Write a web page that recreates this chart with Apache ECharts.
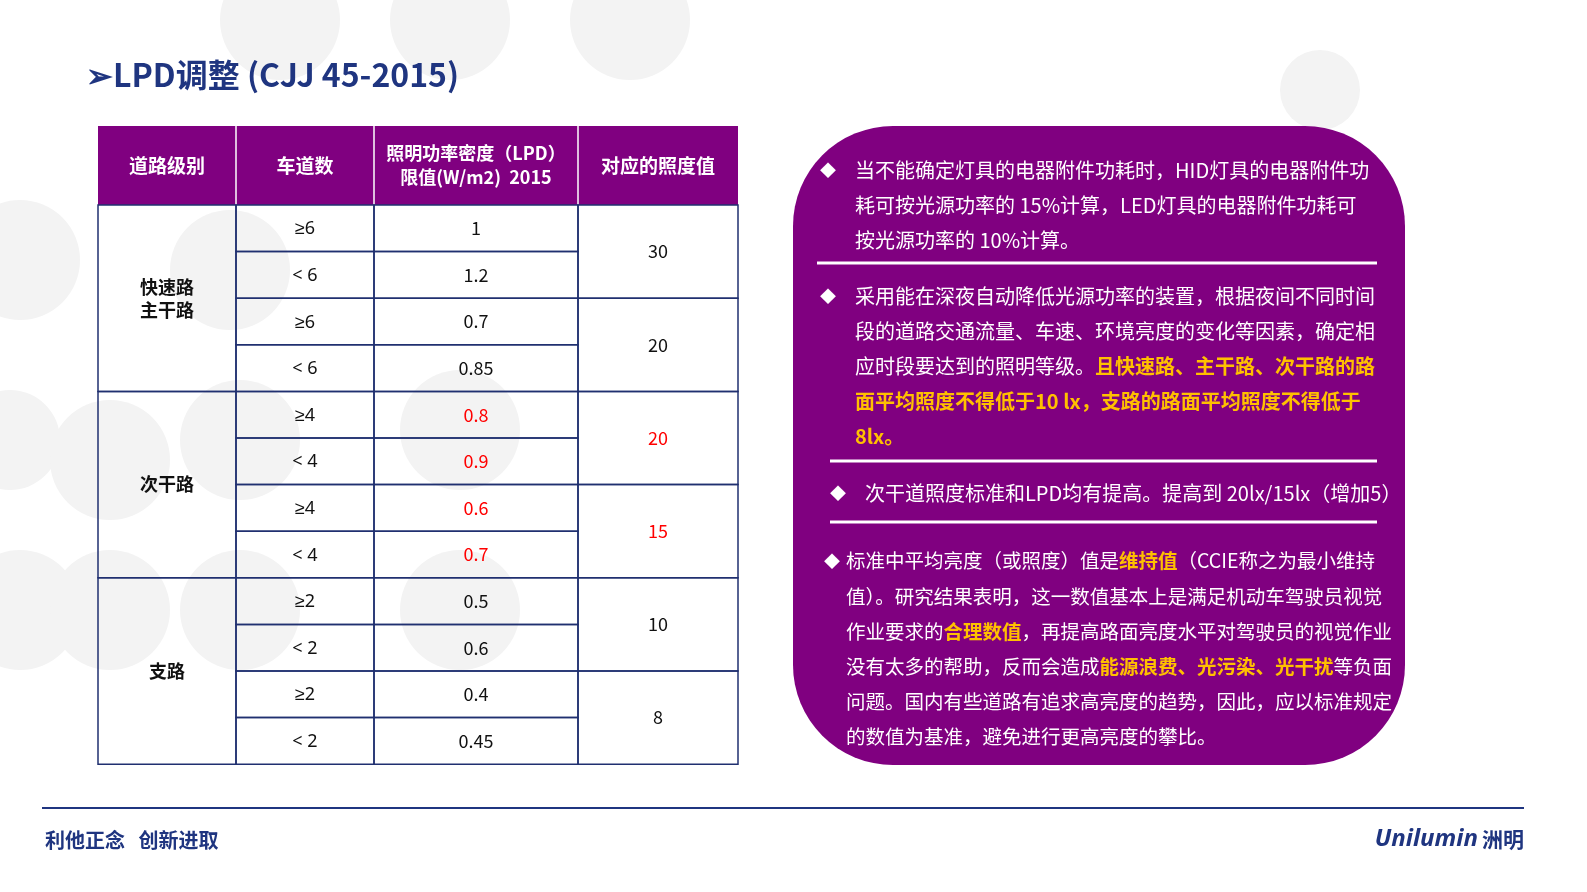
<!DOCTYPE html>
<html><head><meta charset="utf-8">
<script src="https://cdn.jsdelivr.net/npm/echarts@6/dist/echarts.min.js"></script>
<style>html,body{margin:0;background:#fff}#c{width:1587px;height:892px}</style>
</head><body><div id="c"></div>
<script>
var FONT = '"Noto Sans CJK SC", "Noto Sans", sans-serif';
var title = '➢LPD调整 (CJJ 45-2015)';
var headers = ['道路级别', '车道数', '照明功率密度（LPD）\n限值(W/m2)  2015', '对应的照度值'];
var roadClasses = [['快速路\n主干路', 0, 4], ['次干路', 4, 8], ['支路', 8, 12]];
var lanes = ['≥6', '< 6', '≥6', '< 6', '≥4', '< 4', '≥4', '< 4', '≥2', '< 2', '≥2', '< 2'];
var lpd = ['1', '1.2', '0.7', '0.85', '0.8', '0.9', '0.6', '0.7', '0.5', '0.6', '0.4', '0.45'];
var illum = ['30', '20', '20', '15', '10', '8'];
var redRows = [4, 5, 6, 7];
var notes = [
  {bx: 828, tx: 855, y: 170, size: 20, lines: ['当不能确定灯具的电器附件功耗时，HID灯具的电器附件功', '耗可按光源功率的 15%计算，LED灯具的电器附件功耗可', '按光源功率的 10%计算。']},
  {bx: 828, tx: 855, y: 296, size: 20, lines: ['采用能在深夜自动降低光源功率的装置，根据夜间不同时间', '段的道路交通流量、车速、环境亮度的变化等因素，确定相', '应时段要达到的照明等级。{y|且快速路、主干路、次干路的路}', '{y|面平均照度不得低于10 lx，支路的路面平均照度不得低于}', '{y|8lx。}']},
  {bx: 838, tx: 865, y: 493, size: 20, lines: ['次干道照度标准和LPD均有提高。提高到 20lx/15lx（增加5）']},
  {bx: 832, tx: 846, y: 561, size: 19.5, lines: ['标准中平均亮度（或照度）值是{y|维持值}（CCIE称之为最小维持', '值）。研究结果表明，这一数值基本上是满足机动车驾驶员视觉', '作业要求的{y|合理数值}，再提高路面亮度水平对驾驶员的视觉作业', '没有太多的帮助，反而会造成{y|能源浪费、光污染、光干扰}等负面', '问题。国内有些道路有追求高亮度的趋势，因此，应以标准规定', '的数值为基准，避免进行更高亮度的攀比。']}
];
var separators = [[817, 1377, 263], [830, 1377, 461], [830, 1377, 522]];

var NAVY = '#1f3580', PURPLE = '#800080', BORDER = '#203070';
var colX = [98, 236, 374, 578, 738], top0 = 126, headH = 79, rowH = 46.6;
var LH = 35.2;
var g = [];
[[280,20,60],[450,20,60],[630,20,60],[20,260,60],[230,270,60],[10,440,50],[110,460,60],[240,440,60],[20,610,60],[110,610,60],[240,610,60],[460,430,60],[460,610,60],[1320,90,40]].forEach(function(c){
  g.push({type:'circle', shape:{cx:c[0], cy:c[1], r:c[2]}, style:{fill:'#f3f3f3'}, z:0});
});
g.push({type:'text', x:86, y:75, style:{text:title, fill:NAVY, font:'bold 32px ' + FONT, verticalAlign:'middle'}});
g.push({type:'rect', shape:{x:colX[0], y:top0, width:colX[4]-colX[0], height:headH}, style:{fill:PURPLE}});
headers.forEach(function(h, i){
  var cx = (colX[i]+colX[i+1])/2;
  g.push({type:'text', x:cx, y:top0+headH/2, style:{text:h, fill:'#fff', font:(i==2?'bold 18px ':'bold 19px ') + FONT, align:'center', verticalAlign:'middle', lineHeight:24}});
  if (i>0) g.push({type:'line', shape:{x1:colX[i], y1:top0, x2:colX[i], y2:top0+headH}, style:{stroke:'#fff', lineWidth:1.5}});
});
var bodyTop = top0 + headH;
function cellText(t, x, y, red, bold, font){
  g.push({type:'text', x:x, y:y, style:{text:t, fill:red?'#ff0000':'#111', font:(bold?'bold ':'') + '18px ' + (font || FONT), align:'center', verticalAlign:'middle', lineHeight:23}});
}
roadClasses.forEach(function(r){
  var y1 = bodyTop + r[1]*rowH, y2 = bodyTop + r[2]*rowH;
  g.push({type:'rect', shape:{x:colX[0], y:y1, width:colX[1]-colX[0], height:y2-y1}, style:{fill:'none', stroke:BORDER, lineWidth:1.5}});
  cellText(r[0], (colX[0]+colX[1])/2, (y1+y2)/2, false, true);
});
lanes.forEach(function(l, i){
  var y = bodyTop + i*rowH, red = redRows.indexOf(i) >= 0;
  g.push({type:'rect', shape:{x:colX[1], y:y, width:colX[2]-colX[1], height:rowH}, style:{fill:'none', stroke:BORDER, lineWidth:1.5}});
  g.push({type:'rect', shape:{x:colX[2], y:y, width:colX[3]-colX[2], height:rowH}, style:{fill:'none', stroke:BORDER, lineWidth:1.5}});
  cellText(l, (colX[1]+colX[2])/2, y+rowH/2+1, false, false, '"Noto Sans", sans-serif');
  cellText(lpd[i], (colX[2]+colX[3])/2, y+rowH/2, red);
});
illum.forEach(function(v, i){
  var y = bodyTop + i*2*rowH;
  g.push({type:'rect', shape:{x:colX[3], y:y, width:colX[4]-colX[3], height:2*rowH}, style:{fill:'none', stroke:BORDER, lineWidth:1.5}});
  cellText(v, (colX[3]+colX[4])/2, y+rowH, i==2||i==3);
});
g.push({type:'rect', shape:{x:793, y:126, width:612, height:639, r:100}, style:{fill:PURPLE}});
separators.forEach(function(s){
  g.push({type:'line', shape:{x1:s[0], y1:s[2], x2:s[1], y2:s[2]}, style:{stroke:'#fff', lineWidth:3}});
});
notes.forEach(function(n){
  g.push({type:'text', x:n.bx, y:n.y, style:{text:'◆', fill:'#fff', font:'16px ' + FONT, align:'center', verticalAlign:'middle'}});
  g.push({type:'text', x:n.tx, y:n.y - LH/2, style:{text:n.lines.join('\n'), fill:'#fff', font:n.size + 'px ' + FONT, verticalAlign:'top', lineHeight:LH,
    rich:{y:{fill:'#ffc000', font:'bold ' + n.size + 'px ' + FONT, lineHeight:LH}}}});
});
g.push({type:'line', shape:{x1:42, y1:808, x2:1524, y2:808}, style:{stroke:NAVY, lineWidth:2}});
g.push({type:'text', x:45, y:840, style:{text:'利他正念   创新进取', fill:NAVY, font:'bold 20px ' + FONT, verticalAlign:'middle'}});
g.push({type:'text', x:1478, y:839, style:{text:'Unilumin', fill:NAVY, font:'italic bold 24px "Noto Sans", sans-serif', align:'right', verticalAlign:'middle'}});
g.push({type:'text', x:1482, y:839, style:{text:'洲明', fill:NAVY, font:'bold 21px ' + FONT, verticalAlign:'middle'}});

var chart = echarts.init(document.getElementById('c'));
chart.setOption({graphic: g});
</script></body></html>
